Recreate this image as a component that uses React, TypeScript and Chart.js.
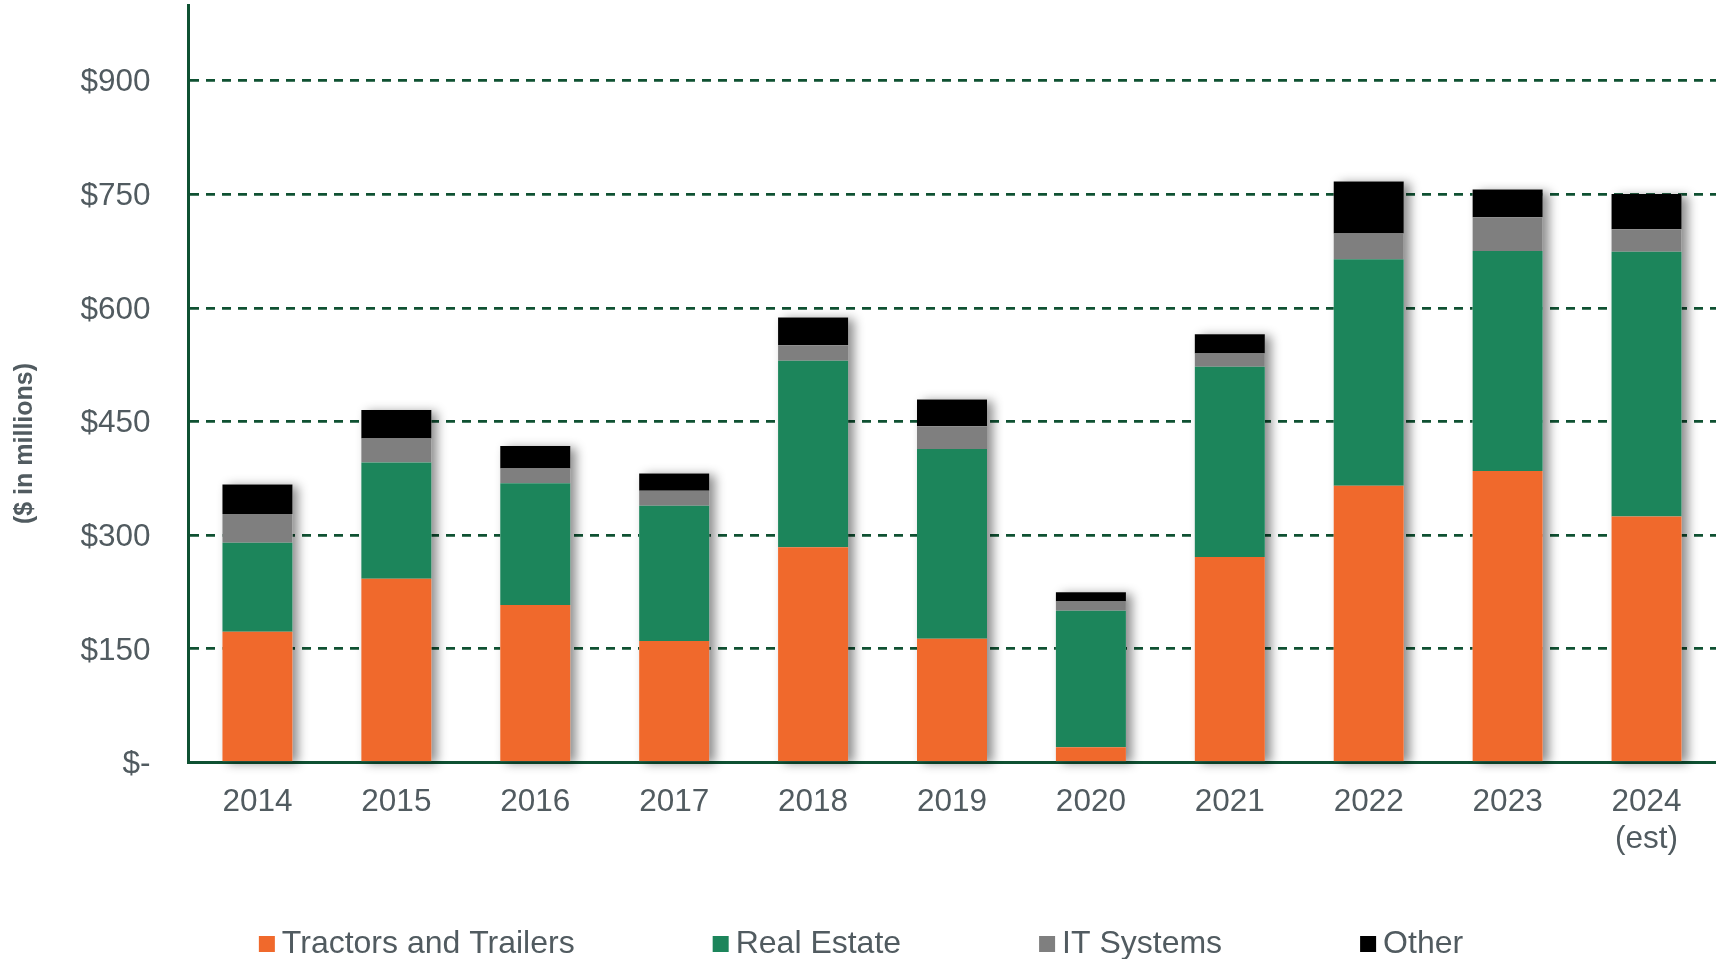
import React, { useEffect, useRef } from 'react';
import { Chart, registerables } from 'chart.js';

Chart.register(...registerables);

// ---- data ----
const categories: (string | string[])[] = ['2014', '2015', '2016', '2017', '2018', '2019', '2020', '2021', '2022', '2023', ['2024', '(est)']];
const seriesNames = ['Tractors and Trailers', 'Real Estate', 'IT Systems', 'Other'];
const tractorsAndTrailers = [172.6, 242.6, 207.8, 160.3, 284.0, 163.4, 20.0, 271.2, 365.3, 384.7, 324.9];
const realEstate = [117.4, 153.5, 161.0, 178.6, 246.2, 250.3, 180.3, 251.1, 299.1, 290.7, 349.2];
const itSystems = [38.0, 31.7, 19.4, 19.8, 20.7, 30.3, 12.4, 17.7, 33.9, 44.5, 29.9];
const other = [39.0, 37.4, 29.5, 22.9, 36.6, 35.3, 11.9, 25.4, 68.7, 36.5, 46.6];
const yTickValues = [0, 150, 300, 450, 600, 750, 900];
const yAxisTitle = '($ in millions)';

// ---- styles ----
const COLORS = ['#F0692C', '#1C855B', '#7F7F7F', '#000000'];
const AXIS_GREEN = '#0F5132';
const TEXT_GRAY = '#515B60';
const FONT = "'Liberation Sans', Arial, sans-serif";
const W = 1716;
const H = 959;

const shadowPlugin = {
  id: 'stackShadow',
  beforeDatasetsDraw(chart: any) {
    const metas = chart.getSortedVisibleDatasetMetas();
    if (!metas.length) return;
    const first = metas[0];
    const last = metas[metas.length - 1];
    const ctx = chart.ctx;
    ctx.save();
    ctx.shadowColor = 'rgba(0,0,0,0.45)';
    ctx.shadowBlur = 10;
    ctx.shadowOffsetX = 6;
    ctx.shadowOffsetY = 2;
    ctx.fillStyle = '#ffffff';
    for (let i = 0; i < first.data.length; i++) {
      const b = first.data[i];
      const t = last.data[i];
      if (!b || !t) continue;
      ctx.fillRect(b.x - b.width / 2, t.y, b.width, b.base - t.y);
    }
    ctx.restore();
  },
};

const yTitlePlugin = {
  id: 'yTitle',
  afterDraw(chart: any) {
    const ctx = chart.ctx;
    const area = chart.chartArea;
    ctx.save();
    ctx.translate(25, area.bottom - 319);
    ctx.rotate(-Math.PI / 2);
    ctx.font = `bold 25px ${FONT}`;
    ctx.fillStyle = TEXT_GRAY;
    ctx.textAlign = 'center';
    ctx.textBaseline = 'middle';
    ctx.fillText(yAxisTitle, 0, 0);
    ctx.restore();
  },
};

const legendPlugin = {
  id: 'bottomLegend',
  afterDraw(chart: any) {
    const ctx = chart.ctx;
    const box = 16;
    const textGap = 7;
    const itemGap = 138;
    const y = chart.chartArea.bottom + 181.5;
    ctx.save();
    ctx.font = `32px ${FONT}`;
    ctx.textBaseline = 'middle';
    ctx.textAlign = 'left';
    const items = chart.data.datasets.map((ds: any) => ({
      text: ds.label as string,
      color: ds.backgroundColor as string,
      w: ctx.measureText(ds.label).width,
    }));
    const total = items.reduce((s: number, it: any) => s + box + textGap + it.w, 0) + itemGap * (items.length - 1);
    let x = chart.width / 2 - total / 2 + 3;
    for (const it of items) {
      ctx.fillStyle = it.color;
      ctx.fillRect(x, y - box / 2, box, box);
      ctx.fillStyle = TEXT_GRAY;
      ctx.fillText(it.text, x + box + textGap, y);
      x += box + textGap + it.w + itemGap;
    }
    ctx.restore();
  },
};

export default function App() {
  const canvasRef = useRef<HTMLCanvasElement | null>(null);

  useEffect(() => {
    if (!canvasRef.current) return;
    const series = [tractorsAndTrailers, realEstate, itSystems, other];
    const chart = new Chart(canvasRef.current, {
      type: 'bar',
      data: {
        labels: categories as any,
        datasets: series.map((values, i) => ({
          label: seriesNames[i],
          data: values,
          backgroundColor: COLORS[i],
          borderWidth: 0,
          barPercentage: 0.504,
          categoryPercentage: 1.0,
        })),
      },
      options: {
        animation: false,
        responsive: false,
        devicePixelRatio: 1,
        layout: { padding: { top: 5, left: 14, right: 0, bottom: 0 } },
        plugins: {
          legend: { display: false },
          tooltip: { enabled: false },
        },
        scales: {
          x: {
            stacked: true,
            grid: { display: false, drawTicks: false },
            border: { display: true, color: AXIS_GREEN, width: 3 },
            ticks: {
              autoSkip: false,
              maxRotation: 0,
              minRotation: 0,
              padding: 20.5,
              color: TEXT_GRAY,
              font: { family: FONT, size: 31.5, lineHeight: 1.2 },
            },
            afterFit(scale: any) {
              scale.height = 196.5;
            },
          },
          y: {
            stacked: true,
            min: 0,
            max: 1000,
            afterBuildTicks(scale: any) {
              scale.ticks = yTickValues.map((v) => ({ value: v }));
            },
            afterFit(scale: any) {
              scale.width = 174;
              scale.paddingTop = 0;
              scale.paddingBottom = 0;
            },
            grid: {
              drawTicks: false,
              lineWidth: 2.8,
              color: (ctx: any) => (ctx.tick && ctx.tick.value === 0 ? 'rgba(0,0,0,0)' : AXIS_GREEN),
            },
            border: { display: true, color: AXIS_GREEN, width: 3, dash: [9, 7] },
            ticks: {
              padding: 37.5,
              labelOffset: 2,
              color: TEXT_GRAY,
              font: { family: FONT, size: 31.5 },
              callback: (v: any) => (Number(v) === 0 ? '$-' : '$' + v),
            },
          },
        },
      },
      plugins: [shadowPlugin, yTitlePlugin, legendPlugin],
    });
    return () => chart.destroy();
  }, []);

  return (
    <div style={{ position: 'fixed', left: 0, top: 0, width: W, height: H, background: '#ffffff' }}>
      <canvas ref={canvasRef} width={W} height={H} style={{ display: 'block' }} />
    </div>
  );
}
